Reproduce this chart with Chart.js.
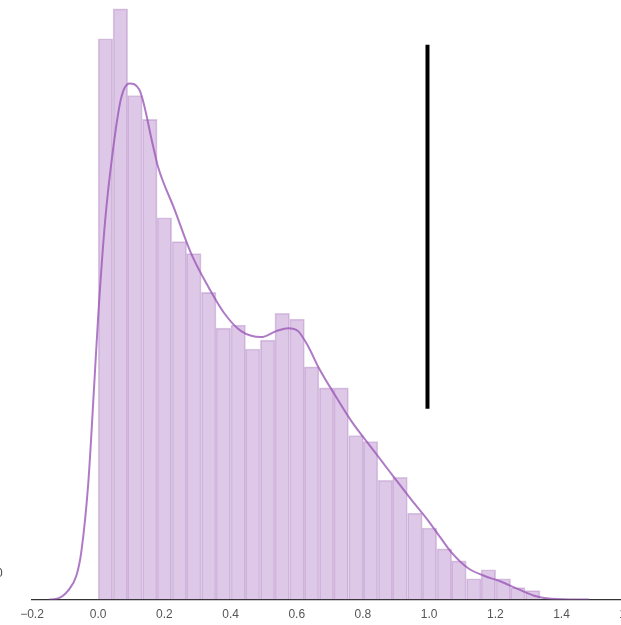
<!DOCTYPE html>
<html>
<head>
<meta charset="utf-8">
<script src="https://cdn.jsdelivr.net/npm/chart.js@4/dist/chart.umd.min.js"></script>
<style>
  html, body { margin: 0; padding: 0; background: #fff; overflow: hidden; }
  #wrap { position: relative; width: 621px; height: 625px; overflow: hidden; }
  #chart { position: absolute; left: 0; top: 0; }
  #stray { position: absolute; left: -4px; top: 566px; font: 12px "Liberation Sans", Arial, sans-serif; color: #444; }
</style>
</head>
<body>
<div id="wrap">
  <canvas id="chart" width="680" height="635"></canvas>
  <span id="stray">0</span>
</div>
<script>
// histogram bins (centres) and densities
const binCenters = [0.022, 0.067, 0.111, 0.156, 0.200, 0.245, 0.289, 0.334, 0.378, 0.423,
                    0.467, 0.512, 0.556, 0.601, 0.645, 0.690, 0.734, 0.779, 0.823, 0.868,
                    0.912, 0.957, 1.001, 1.046, 1.090, 1.135, 1.179, 1.224, 1.268, 1.313];
const binDensity = [1.88, 1.98, 1.69, 1.61, 1.28, 1.20, 1.16, 1.03, 0.91, 0.92,
                    0.84, 0.87, 0.96, 0.94, 0.78, 0.71, 0.71, 0.55, 0.53, 0.40,
                    0.41, 0.29, 0.24, 0.17, 0.13, 0.07, 0.10, 0.07, 0.04, 0.03];

// kde curve
const kdeX = [-0.148, -0.121, -0.091, -0.066, -0.051, -0.030, -0.012, 0.0, 0.021, 0.045,
              0.069, 0.094, 0.124, 0.166, 0.181, 0.230, 0.281, 0.332, 0.381, 0.432,
              0.492, 0.538, 0.574, 0.604, 0.634, 0.665, 0.713, 0.764, 0.825, 0.894,
              0.946, 0.997, 1.036, 1.066, 1.118, 1.166, 1.218, 1.269, 1.317, 1.369, 1.483];
const kdeY = [0.0, 0.004, 0.03, 0.08, 0.16, 0.39, 0.72, 0.95, 1.27, 1.51,
              1.68, 1.73, 1.71, 1.52, 1.45, 1.31, 1.16, 1.05, 0.96, 0.90,
              0.88, 0.90, 0.91, 0.90, 0.85, 0.78, 0.69, 0.60, 0.51, 0.41,
              0.335, 0.265, 0.205, 0.16, 0.105, 0.08, 0.06, 0.035, 0.013, 0.003, 0.0];

// the black marker line
const markerX = 0.995;
const markerY = [0.64, 1.86];

const xTicks = [-0.2, 0.0, 0.2, 0.4, 0.6, 0.8, 1.0, 1.2, 1.4, 1.6];

const ctx = document.getElementById('chart').getContext('2d');
const chart = new Chart(ctx, {
  data: {
    datasets: [
      {
        type: 'line',
        order: 0,
        data: markerY.map(y => ({ x: markerX, y: y })),
        borderColor: '#000',
        borderWidth: 4,
        pointRadius: 0,
      },
      {
        type: 'line',
        order: 1,
        data: kdeX.map((x, i) => ({ x: x, y: kdeY[i] })),
        borderColor: 'rgba(155,89,182,0.8)',
        borderWidth: 2,
        pointRadius: 0,
        cubicInterpolationMode: 'monotone',
      },
      {
        type: 'bar',
        order: 2,
        data: binCenters.map((x, i) => ({ x: x, y: binDensity[i] })),
        backgroundColor: 'rgba(155,89,182,0.33)',
        borderColor: 'rgba(140,80,165,0.3)',
        borderWidth: 1,
        barPercentage: 1,
        categoryPercentage: 1,
      },
    ],
  },
  options: {
    responsive: false,
    animation: false,
    devicePixelRatio: 1,
    layout: { padding: { left: 32, right: 0, top: 0, bottom: 5 } },
    plugins: { legend: { display: false }, tooltip: { enabled: false } },
    scales: {
      x: {
        type: 'linear',
        offset: false,
        min: -0.2,
        max: 1.758,
        afterBuildTicks: (axis) => { axis.ticks = xTicks.map(v => ({ value: v })); },
        grid: { display: false, drawTicks: false },
        border: { display: true, color: '#333', width: 1.2 },
        ticks: {
          padding: 8,
          color: '#555',
          font: { family: '"Liberation Sans", Arial, sans-serif', size: 12 },
          callback: (v) => (v < 0 ? '\u2212' : '') + Math.abs(v).toFixed(1),
        },
      },
      y: {
        display: false,
        min: 0,
        max: 2.01,
      },
    },
  },
});
</script>
</body>
</html>
